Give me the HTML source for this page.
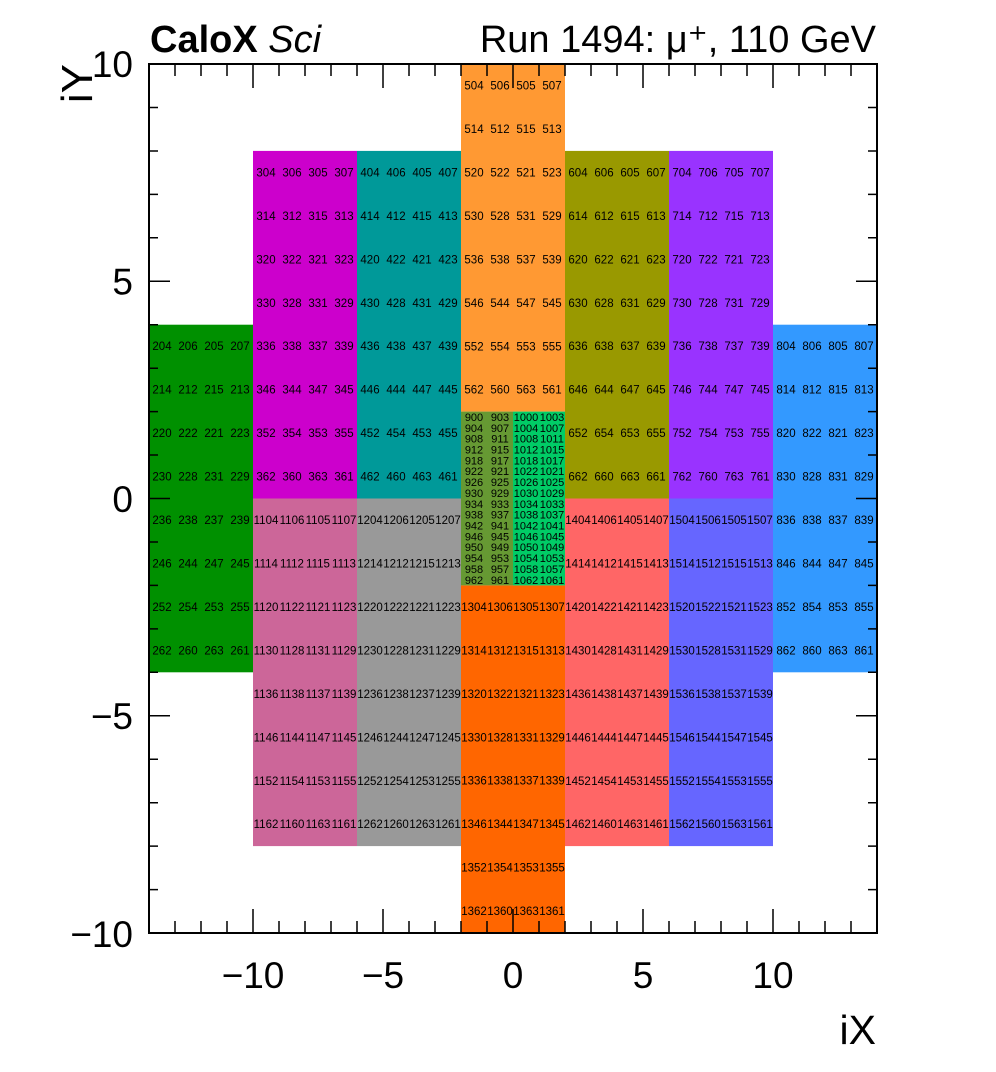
<!DOCTYPE html>
<html><head><meta charset="utf-8"><style>
html,body{margin:0;padding:0;background:#fff;}
svg{display:block;font-family:"Liberation Sans",sans-serif;}
.l text{font-size:11.5px;text-anchor:middle;fill:#000;}
.s text{font-size:11px;text-anchor:middle;fill:#000;}
.ax{font-size:37px;fill:#000;}
</style></head><body>
<svg width="996" height="1072" viewBox="0 0 996 1072" xmlns="http://www.w3.org/2000/svg">
<rect width="996" height="1072" fill="#fff"/>
<rect x="149" y="324.7" width="104" height="347.6" fill="#009000"/>
<rect x="253" y="150.9" width="104" height="347.6" fill="#cc00cc"/>
<rect x="357" y="150.9" width="104" height="347.6" fill="#009999"/>
<rect x="461" y="64" width="104" height="347.6" fill="#ff9933"/>
<rect x="565" y="150.9" width="104" height="347.6" fill="#999900"/>
<rect x="669" y="150.9" width="104" height="347.6" fill="#9933ff"/>
<rect x="773" y="324.7" width="104" height="347.6" fill="#3399ff"/>
<rect x="253" y="498.5" width="104" height="347.6" fill="#cc6699"/>
<rect x="357" y="498.5" width="104" height="347.6" fill="#999999"/>
<rect x="461" y="585.4" width="104" height="347.6" fill="#ff6600"/>
<rect x="565" y="498.5" width="104" height="347.6" fill="#ff6666"/>
<rect x="669" y="498.5" width="104" height="347.6" fill="#6666ff"/>
<rect x="461" y="411.6" width="52" height="173.8" fill="#669933"/>
<rect x="513" y="411.6" width="52" height="173.8" fill="#00cc66"/>

<g class="l" transform="translate(149,324.7)">
<text x="13" y="25.5">204</text><text x="39" y="25.5">206</text><text x="65" y="25.5">205</text><text x="91" y="25.5">207</text>
<text x="13" y="69">214</text><text x="39" y="69">212</text><text x="65" y="69">215</text><text x="91" y="69">213</text>
<text x="13" y="112.5">220</text><text x="39" y="112.5">222</text><text x="65" y="112.5">221</text><text x="91" y="112.5">223</text>
<text x="13" y="155.9">230</text><text x="39" y="155.9">228</text><text x="65" y="155.9">231</text><text x="91" y="155.9">229</text>
<text x="13" y="199.3">236</text><text x="39" y="199.3">238</text><text x="65" y="199.3">237</text><text x="91" y="199.3">239</text>
<text x="13" y="242.8">246</text><text x="39" y="242.8">244</text><text x="65" y="242.8">247</text><text x="91" y="242.8">245</text>
<text x="13" y="286.3">252</text><text x="39" y="286.3">254</text><text x="65" y="286.3">253</text><text x="91" y="286.3">255</text>
<text x="13" y="329.7">262</text><text x="39" y="329.7">260</text><text x="65" y="329.7">263</text><text x="91" y="329.7">261</text>
</g>
<g class="l" transform="translate(253,150.9)">
<text x="13" y="25.5">304</text><text x="39" y="25.5">306</text><text x="65" y="25.5">305</text><text x="91" y="25.5">307</text>
<text x="13" y="69">314</text><text x="39" y="69">312</text><text x="65" y="69">315</text><text x="91" y="69">313</text>
<text x="13" y="112.5">320</text><text x="39" y="112.5">322</text><text x="65" y="112.5">321</text><text x="91" y="112.5">323</text>
<text x="13" y="155.9">330</text><text x="39" y="155.9">328</text><text x="65" y="155.9">331</text><text x="91" y="155.9">329</text>
<text x="13" y="199.3">336</text><text x="39" y="199.3">338</text><text x="65" y="199.3">337</text><text x="91" y="199.3">339</text>
<text x="13" y="242.8">346</text><text x="39" y="242.8">344</text><text x="65" y="242.8">347</text><text x="91" y="242.8">345</text>
<text x="13" y="286.3">352</text><text x="39" y="286.3">354</text><text x="65" y="286.3">353</text><text x="91" y="286.3">355</text>
<text x="13" y="329.7">362</text><text x="39" y="329.7">360</text><text x="65" y="329.7">363</text><text x="91" y="329.7">361</text>
</g>
<g class="l" transform="translate(357,150.9)">
<text x="13" y="25.5">404</text><text x="39" y="25.5">406</text><text x="65" y="25.5">405</text><text x="91" y="25.5">407</text>
<text x="13" y="69">414</text><text x="39" y="69">412</text><text x="65" y="69">415</text><text x="91" y="69">413</text>
<text x="13" y="112.5">420</text><text x="39" y="112.5">422</text><text x="65" y="112.5">421</text><text x="91" y="112.5">423</text>
<text x="13" y="155.9">430</text><text x="39" y="155.9">428</text><text x="65" y="155.9">431</text><text x="91" y="155.9">429</text>
<text x="13" y="199.3">436</text><text x="39" y="199.3">438</text><text x="65" y="199.3">437</text><text x="91" y="199.3">439</text>
<text x="13" y="242.8">446</text><text x="39" y="242.8">444</text><text x="65" y="242.8">447</text><text x="91" y="242.8">445</text>
<text x="13" y="286.3">452</text><text x="39" y="286.3">454</text><text x="65" y="286.3">453</text><text x="91" y="286.3">455</text>
<text x="13" y="329.7">462</text><text x="39" y="329.7">460</text><text x="65" y="329.7">463</text><text x="91" y="329.7">461</text>
</g>
<g class="l" transform="translate(461,64)">
<text x="13" y="25.5">504</text><text x="39" y="25.5">506</text><text x="65" y="25.5">505</text><text x="91" y="25.5">507</text>
<text x="13" y="69">514</text><text x="39" y="69">512</text><text x="65" y="69">515</text><text x="91" y="69">513</text>
<text x="13" y="112.5">520</text><text x="39" y="112.5">522</text><text x="65" y="112.5">521</text><text x="91" y="112.5">523</text>
<text x="13" y="155.9">530</text><text x="39" y="155.9">528</text><text x="65" y="155.9">531</text><text x="91" y="155.9">529</text>
<text x="13" y="199.3">536</text><text x="39" y="199.3">538</text><text x="65" y="199.3">537</text><text x="91" y="199.3">539</text>
<text x="13" y="242.8">546</text><text x="39" y="242.8">544</text><text x="65" y="242.8">547</text><text x="91" y="242.8">545</text>
<text x="13" y="286.3">552</text><text x="39" y="286.3">554</text><text x="65" y="286.3">553</text><text x="91" y="286.3">555</text>
<text x="13" y="329.7">562</text><text x="39" y="329.7">560</text><text x="65" y="329.7">563</text><text x="91" y="329.7">561</text>
</g>
<g class="l" transform="translate(565,150.9)">
<text x="13" y="25.5">604</text><text x="39" y="25.5">606</text><text x="65" y="25.5">605</text><text x="91" y="25.5">607</text>
<text x="13" y="69">614</text><text x="39" y="69">612</text><text x="65" y="69">615</text><text x="91" y="69">613</text>
<text x="13" y="112.5">620</text><text x="39" y="112.5">622</text><text x="65" y="112.5">621</text><text x="91" y="112.5">623</text>
<text x="13" y="155.9">630</text><text x="39" y="155.9">628</text><text x="65" y="155.9">631</text><text x="91" y="155.9">629</text>
<text x="13" y="199.3">636</text><text x="39" y="199.3">638</text><text x="65" y="199.3">637</text><text x="91" y="199.3">639</text>
<text x="13" y="242.8">646</text><text x="39" y="242.8">644</text><text x="65" y="242.8">647</text><text x="91" y="242.8">645</text>
<text x="13" y="286.3">652</text><text x="39" y="286.3">654</text><text x="65" y="286.3">653</text><text x="91" y="286.3">655</text>
<text x="13" y="329.7">662</text><text x="39" y="329.7">660</text><text x="65" y="329.7">663</text><text x="91" y="329.7">661</text>
</g>
<g class="l" transform="translate(669,150.9)">
<text x="13" y="25.5">704</text><text x="39" y="25.5">706</text><text x="65" y="25.5">705</text><text x="91" y="25.5">707</text>
<text x="13" y="69">714</text><text x="39" y="69">712</text><text x="65" y="69">715</text><text x="91" y="69">713</text>
<text x="13" y="112.5">720</text><text x="39" y="112.5">722</text><text x="65" y="112.5">721</text><text x="91" y="112.5">723</text>
<text x="13" y="155.9">730</text><text x="39" y="155.9">728</text><text x="65" y="155.9">731</text><text x="91" y="155.9">729</text>
<text x="13" y="199.3">736</text><text x="39" y="199.3">738</text><text x="65" y="199.3">737</text><text x="91" y="199.3">739</text>
<text x="13" y="242.8">746</text><text x="39" y="242.8">744</text><text x="65" y="242.8">747</text><text x="91" y="242.8">745</text>
<text x="13" y="286.3">752</text><text x="39" y="286.3">754</text><text x="65" y="286.3">753</text><text x="91" y="286.3">755</text>
<text x="13" y="329.7">762</text><text x="39" y="329.7">760</text><text x="65" y="329.7">763</text><text x="91" y="329.7">761</text>
</g>
<g class="l" transform="translate(773,324.7)">
<text x="13" y="25.5">804</text><text x="39" y="25.5">806</text><text x="65" y="25.5">805</text><text x="91" y="25.5">807</text>
<text x="13" y="69">814</text><text x="39" y="69">812</text><text x="65" y="69">815</text><text x="91" y="69">813</text>
<text x="13" y="112.5">820</text><text x="39" y="112.5">822</text><text x="65" y="112.5">821</text><text x="91" y="112.5">823</text>
<text x="13" y="155.9">830</text><text x="39" y="155.9">828</text><text x="65" y="155.9">831</text><text x="91" y="155.9">829</text>
<text x="13" y="199.3">836</text><text x="39" y="199.3">838</text><text x="65" y="199.3">837</text><text x="91" y="199.3">839</text>
<text x="13" y="242.8">846</text><text x="39" y="242.8">844</text><text x="65" y="242.8">847</text><text x="91" y="242.8">845</text>
<text x="13" y="286.3">852</text><text x="39" y="286.3">854</text><text x="65" y="286.3">853</text><text x="91" y="286.3">855</text>
<text x="13" y="329.7">862</text><text x="39" y="329.7">860</text><text x="65" y="329.7">863</text><text x="91" y="329.7">861</text>
</g>
<g class="l" transform="translate(253,498.5)">
<text x="13" y="25.5">1104</text><text x="39" y="25.5">1106</text><text x="65" y="25.5">1105</text><text x="91" y="25.5">1107</text>
<text x="13" y="69">1114</text><text x="39" y="69">1112</text><text x="65" y="69">1115</text><text x="91" y="69">1113</text>
<text x="13" y="112.5">1120</text><text x="39" y="112.5">1122</text><text x="65" y="112.5">1121</text><text x="91" y="112.5">1123</text>
<text x="13" y="155.9">1130</text><text x="39" y="155.9">1128</text><text x="65" y="155.9">1131</text><text x="91" y="155.9">1129</text>
<text x="13" y="199.3">1136</text><text x="39" y="199.3">1138</text><text x="65" y="199.3">1137</text><text x="91" y="199.3">1139</text>
<text x="13" y="242.8">1146</text><text x="39" y="242.8">1144</text><text x="65" y="242.8">1147</text><text x="91" y="242.8">1145</text>
<text x="13" y="286.3">1152</text><text x="39" y="286.3">1154</text><text x="65" y="286.3">1153</text><text x="91" y="286.3">1155</text>
<text x="13" y="329.7">1162</text><text x="39" y="329.7">1160</text><text x="65" y="329.7">1163</text><text x="91" y="329.7">1161</text>
</g>
<g class="l" transform="translate(357,498.5)">
<text x="13" y="25.5">1204</text><text x="39" y="25.5">1206</text><text x="65" y="25.5">1205</text><text x="91" y="25.5">1207</text>
<text x="13" y="69">1214</text><text x="39" y="69">1212</text><text x="65" y="69">1215</text><text x="91" y="69">1213</text>
<text x="13" y="112.5">1220</text><text x="39" y="112.5">1222</text><text x="65" y="112.5">1221</text><text x="91" y="112.5">1223</text>
<text x="13" y="155.9">1230</text><text x="39" y="155.9">1228</text><text x="65" y="155.9">1231</text><text x="91" y="155.9">1229</text>
<text x="13" y="199.3">1236</text><text x="39" y="199.3">1238</text><text x="65" y="199.3">1237</text><text x="91" y="199.3">1239</text>
<text x="13" y="242.8">1246</text><text x="39" y="242.8">1244</text><text x="65" y="242.8">1247</text><text x="91" y="242.8">1245</text>
<text x="13" y="286.3">1252</text><text x="39" y="286.3">1254</text><text x="65" y="286.3">1253</text><text x="91" y="286.3">1255</text>
<text x="13" y="329.7">1262</text><text x="39" y="329.7">1260</text><text x="65" y="329.7">1263</text><text x="91" y="329.7">1261</text>
</g>
<g class="l" transform="translate(461,585.4)">
<text x="13" y="25.5">1304</text><text x="39" y="25.5">1306</text><text x="65" y="25.5">1305</text><text x="91" y="25.5">1307</text>
<text x="13" y="69">1314</text><text x="39" y="69">1312</text><text x="65" y="69">1315</text><text x="91" y="69">1313</text>
<text x="13" y="112.5">1320</text><text x="39" y="112.5">1322</text><text x="65" y="112.5">1321</text><text x="91" y="112.5">1323</text>
<text x="13" y="155.9">1330</text><text x="39" y="155.9">1328</text><text x="65" y="155.9">1331</text><text x="91" y="155.9">1329</text>
<text x="13" y="199.3">1336</text><text x="39" y="199.3">1338</text><text x="65" y="199.3">1337</text><text x="91" y="199.3">1339</text>
<text x="13" y="242.8">1346</text><text x="39" y="242.8">1344</text><text x="65" y="242.8">1347</text><text x="91" y="242.8">1345</text>
<text x="13" y="286.3">1352</text><text x="39" y="286.3">1354</text><text x="65" y="286.3">1353</text><text x="91" y="286.3">1355</text>
<text x="13" y="329.7">1362</text><text x="39" y="329.7">1360</text><text x="65" y="329.7">1363</text><text x="91" y="329.7">1361</text>
</g>
<g class="l" transform="translate(565,498.5)">
<text x="13" y="25.5">1404</text><text x="39" y="25.5">1406</text><text x="65" y="25.5">1405</text><text x="91" y="25.5">1407</text>
<text x="13" y="69">1414</text><text x="39" y="69">1412</text><text x="65" y="69">1415</text><text x="91" y="69">1413</text>
<text x="13" y="112.5">1420</text><text x="39" y="112.5">1422</text><text x="65" y="112.5">1421</text><text x="91" y="112.5">1423</text>
<text x="13" y="155.9">1430</text><text x="39" y="155.9">1428</text><text x="65" y="155.9">1431</text><text x="91" y="155.9">1429</text>
<text x="13" y="199.3">1436</text><text x="39" y="199.3">1438</text><text x="65" y="199.3">1437</text><text x="91" y="199.3">1439</text>
<text x="13" y="242.8">1446</text><text x="39" y="242.8">1444</text><text x="65" y="242.8">1447</text><text x="91" y="242.8">1445</text>
<text x="13" y="286.3">1452</text><text x="39" y="286.3">1454</text><text x="65" y="286.3">1453</text><text x="91" y="286.3">1455</text>
<text x="13" y="329.7">1462</text><text x="39" y="329.7">1460</text><text x="65" y="329.7">1463</text><text x="91" y="329.7">1461</text>
</g>
<g class="l" transform="translate(669,498.5)">
<text x="13" y="25.5">1504</text><text x="39" y="25.5">1506</text><text x="65" y="25.5">1505</text><text x="91" y="25.5">1507</text>
<text x="13" y="69">1514</text><text x="39" y="69">1512</text><text x="65" y="69">1515</text><text x="91" y="69">1513</text>
<text x="13" y="112.5">1520</text><text x="39" y="112.5">1522</text><text x="65" y="112.5">1521</text><text x="91" y="112.5">1523</text>
<text x="13" y="155.9">1530</text><text x="39" y="155.9">1528</text><text x="65" y="155.9">1531</text><text x="91" y="155.9">1529</text>
<text x="13" y="199.3">1536</text><text x="39" y="199.3">1538</text><text x="65" y="199.3">1537</text><text x="91" y="199.3">1539</text>
<text x="13" y="242.8">1546</text><text x="39" y="242.8">1544</text><text x="65" y="242.8">1547</text><text x="91" y="242.8">1545</text>
<text x="13" y="286.3">1552</text><text x="39" y="286.3">1554</text><text x="65" y="286.3">1553</text><text x="91" y="286.3">1555</text>
<text x="13" y="329.7">1562</text><text x="39" y="329.7">1560</text><text x="65" y="329.7">1563</text><text x="91" y="329.7">1561</text>
</g>
<g class="s" transform="translate(461,411.6)">
<text x="13" y="9.3">900</text><text x="39" y="9.3">903</text>
<text x="13" y="20.2">904</text><text x="39" y="20.2">907</text>
<text x="13" y="31">908</text><text x="39" y="31">911</text>
<text x="13" y="41.9">912</text><text x="39" y="41.9">915</text>
<text x="13" y="52.7">918</text><text x="39" y="52.7">917</text>
<text x="13" y="63.6">922</text><text x="39" y="63.6">921</text>
<text x="13" y="74.5">926</text><text x="39" y="74.5">925</text>
<text x="13" y="85.3">930</text><text x="39" y="85.3">929</text>
<text x="13" y="96.2">934</text><text x="39" y="96.2">933</text>
<text x="13" y="107">938</text><text x="39" y="107">937</text>
<text x="13" y="117.9">942</text><text x="39" y="117.9">941</text>
<text x="13" y="128.8">946</text><text x="39" y="128.8">945</text>
<text x="13" y="139.6">950</text><text x="39" y="139.6">949</text>
<text x="13" y="150.5">954</text><text x="39" y="150.5">953</text>
<text x="13" y="161.3">958</text><text x="39" y="161.3">957</text>
<text x="13" y="172.2">962</text><text x="39" y="172.2">961</text>
</g>
<g class="s" transform="translate(513,411.6)">
<text x="13" y="9.3">1000</text><text x="39" y="9.3">1003</text>
<text x="13" y="20.2">1004</text><text x="39" y="20.2">1007</text>
<text x="13" y="31">1008</text><text x="39" y="31">1011</text>
<text x="13" y="41.9">1012</text><text x="39" y="41.9">1015</text>
<text x="13" y="52.7">1018</text><text x="39" y="52.7">1017</text>
<text x="13" y="63.6">1022</text><text x="39" y="63.6">1021</text>
<text x="13" y="74.5">1026</text><text x="39" y="74.5">1025</text>
<text x="13" y="85.3">1030</text><text x="39" y="85.3">1029</text>
<text x="13" y="96.2">1034</text><text x="39" y="96.2">1033</text>
<text x="13" y="107">1038</text><text x="39" y="107">1037</text>
<text x="13" y="117.9">1042</text><text x="39" y="117.9">1041</text>
<text x="13" y="128.8">1046</text><text x="39" y="128.8">1045</text>
<text x="13" y="139.6">1050</text><text x="39" y="139.6">1049</text>
<text x="13" y="150.5">1054</text><text x="39" y="150.5">1053</text>
<text x="13" y="161.3">1058</text><text x="39" y="161.3">1057</text>
<text x="13" y="172.2">1062</text><text x="39" y="172.2">1061</text>
</g>

<rect x="149" y="64" width="728" height="869" fill="none" stroke="#000" stroke-width="2"/>
<path stroke="#000" stroke-width="1.5" fill="none" d="
M175 933v-12M201 933v-12M227 933v-12M279 933v-12M305 933v-12M331 933v-12M357 933v-12M409 933v-12M435 933v-12M461 933v-12M487 933v-12M539 933v-12M565 933v-12M591 933v-12M617 933v-12M669 933v-12M695 933v-12M721 933v-12M747 933v-12M799 933v-12M825 933v-12M851 933v-12
M253 933v-24M383 933v-24M513 933v-24M643 933v-24M773 933v-24
M175 64v12M201 64v12M227 64v12M279 64v12M305 64v12M331 64v12M357 64v12M409 64v12M435 64v12M461 64v12M487 64v12M539 64v12M565 64v12M591 64v12M617 64v12M669 64v12M695 64v12M721 64v12M747 64v12M799 64v12M825 64v12M851 64v12
M253 64v24M383 64v24M513 64v24M643 64v24M773 64v24
M149 107.5h9M149 151h9M149 194.4h9M149 237.8h9M149 324.7h9M149 368.2h9M149 411.6h9M149 455h9M149 542h9M149 585.4h9M149 628.9h9M149 672.3h9M149 759.2h9M149 802.7h9M149 846.1h9M149 889.6h9
M149 281.3h21M149 498.5h21M149 715.8h21
M877 107.5h-9M877 151h-9M877 194.4h-9M877 237.8h-9M877 324.7h-9M877 368.2h-9M877 411.6h-9M877 455h-9M877 542h-9M877 585.4h-9M877 628.9h-9M877 672.3h-9M877 759.2h-9M877 802.7h-9M877 846.1h-9M877 889.6h-9
M877 281.3h-21M877 498.5h-21M877 715.8h-21"/>

<g class="ax" text-anchor="end">
<text x="133" y="77">10</text>
<text x="133" y="294.5">5</text>
<text x="133" y="512">0</text>
<text x="133" y="729">−5</text>
<text x="133" y="947">−10</text>
</g>
<g class="ax" text-anchor="middle">
<text x="253" y="988">−10</text>
<text x="383" y="988">−5</text>
<text x="513" y="988">0</text>
<text x="643" y="988">5</text>
<text x="773" y="988">10</text>
</g>
<text x="876" y="1044" text-anchor="end" style="font-size:41px">iX</text>
<text transform="translate(92,64) rotate(-90)" text-anchor="end" style="font-size:44px">iY</text>
<text x="150" y="52" style="font-size:38px;font-weight:bold">CaloX <tspan style="font-weight:normal;font-style:italic">Sci</tspan></text>
<text x="876" y="52" text-anchor="end" style="font-size:38px">Run 1494:  μ⁺, 110 GeV</text>
</svg>
</body></html>
